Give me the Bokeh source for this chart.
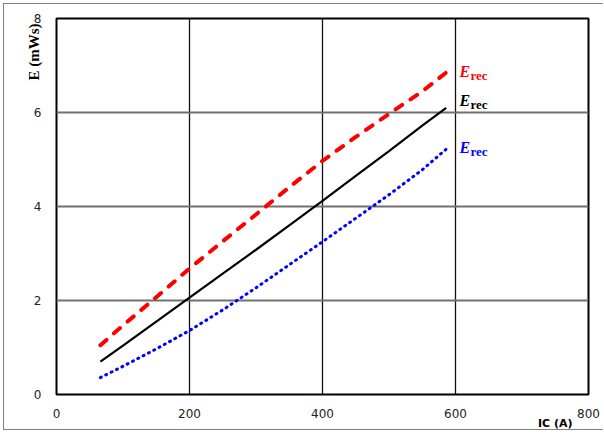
from bokeh.plotting import figure
from bokeh.models import Label, FixedTicker, Range1d, Title
from bokeh.embed import file_html
from bokeh.resources import INLINE

# ---- data ----
ic_a = [66, 100, 150, 200, 250, 300, 350, 400, 450, 500, 550, 586]
e_red = [1.05, 1.47, 2.07, 2.68, 3.26, 3.83, 4.41, 4.97, 5.48, 5.97, 6.45, 6.85]
e_black = [0.70, 1.04, 1.55, 2.06, 2.57, 3.08, 3.60, 4.12, 4.65, 5.18, 5.72, 6.10]
e_blue = [0.36, 0.60, 0.97, 1.36, 1.80, 2.27, 2.76, 3.25, 3.75, 4.25, 4.78, 5.22]
x_ticks = [0, 200, 400, 600, 800]
y_ticks = [0, 2, 4, 6, 8]
label_y = [6.88, 6.25, 5.25]
label_colors = ["#ff0000", "#000000", "#0000ff"]
y_title = "E (mWs)"
x_title = "IC (A)"

p = figure(width=600, height=427, output_backend="svg", toolbar_location=None,
           x_range=Range1d(0, 800), y_range=Range1d(0, 8),
           min_border_left=52, min_border_right=16, min_border_top=14, min_border_bottom=37,
           styles={"margin-left": "3px", "margin-top": "3px",
                   "border-left": "1px solid #808080", "border-top": "1px solid #808080",
                   "border-bottom": "1px solid #808080"})

p.outline_line_color = "black"
p.outline_line_width = 2
p.background_fill_color = "white"
p.border_fill_color = "white"

for ax in (p.xaxis[0], p.yaxis[0]):
    ax.axis_line_color = None
    ax.major_tick_line_color = None
    ax.minor_tick_line_color = None
    ax.major_label_text_font = "DejaVu Sans"
    ax.major_label_text_font_size = "12px"
    ax.major_label_text_color = "#222222"

p.xaxis.ticker = FixedTicker(ticks=x_ticks)
p.yaxis.ticker = FixedTicker(ticks=y_ticks)
p.xaxis.major_label_standoff = 8
p.yaxis.major_label_standoff = 9

p.xgrid.ticker = FixedTicker(ticks=x_ticks)
p.ygrid.ticker = FixedTicker(ticks=y_ticks)
p.xgrid.grid_line_color = "#111111"
p.xgrid.grid_line_width = 1.3
p.ygrid.grid_line_color = "#707070"
p.ygrid.grid_line_width = 2

p.line(ic_a, e_red, line_color="#ff0000", line_width=4, line_dash="8 10", line_cap="round")
p.line(ic_a, e_black, line_color="#000000", line_width=2.2)
p.line(ic_a, e_blue, line_color="#0000ff", line_width=3, line_dash="1 5", line_cap="round")

# curve labels E_rec
for yv, c in zip(label_y, label_colors):
    p.add_layout(Label(x=606, y=yv, text="E", text_font="Liberation Serif", text_font_style="bold italic",
                       text_font_size="16px", text_color=c, text_baseline="middle", text_align="left"))
    p.add_layout(Label(x=606, y=yv, x_offset=11, y_offset=-4, text="rec", text_font="Liberation Serif",
                       text_font_style="bold", text_font_size="13px", text_color=c,
                       text_baseline="middle", text_align="left"))

# axis titles (side panels, not clipped)
p.add_layout(Title(text=y_title, align="right", offset=5, standoff=-23,
                   text_font="Liberation Serif", text_font_style="bold", text_font_size="15px",
                   text_color="black"), "left")
p.add_layout(Title(text=x_title, align="right", offset=16, standoff=-7, vertical_align="top",
                   text_font="DejaVu Sans", text_font_style="bold", text_font_size="11px",
                   text_color="black"), "below")

open("out.html", "w").write(file_html(p, INLINE))
